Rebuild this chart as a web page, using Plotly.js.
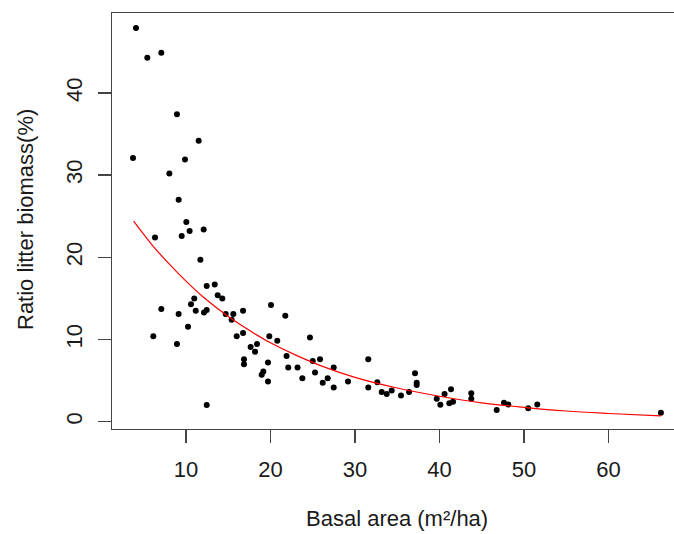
<!DOCTYPE html>
<html>
<head>
<meta charset="utf-8">
<script src="https://cdn.plot.ly/plotly-3.0.1.min.js"></script>
<style>html,body{margin:0;padding:0;background:#fff;}</style>
</head>
<body>
<div id="chart" style="width:674px;height:534px;"></div>
<script>
// Observed data: basal area (m²/ha) vs ratio of litter biomass (%)
const basalArea = [
  4.08, 5.42, 7.08, 8.93, 11.5, 3.73, 9.88, 8.03, 9.13, 10.04,
  6.33, 9.49, 10.43, 12.09, 11.7, 12.45, 13.4, 13.75, 14.3, 10.98,
  10.59, 11.15, 12.13, 12.45, 7.08, 9.13, 10.24, 6.13, 8.93, 14.7,
  15.6, 15.4, 16.75, 20.06, 21.75, 16.0, 16.75, 19.86, 20.8, 17.65,
  18.4, 18.17, 16.86, 16.86, 19.7, 19.15, 18.96, 19.7, 21.9, 22.1,
  23.2, 12.45, 24.67, 23.77, 25.0, 25.86, 25.27, 26.18, 26.77, 27.48,
  27.48, 29.17, 31.57, 31.57, 32.64, 33.16, 33.75, 34.34, 35.44, 36.4,
  37.1, 37.3, 37.3, 39.67, 40.1, 40.6, 41.36, 41.16, 41.6, 43.76,
  43.76, 46.77, 47.63, 48.14, 50.5, 51.57, 66.2
];
const litterRatio = [
  47.9, 44.3, 44.9, 37.4, 34.2, 32.1, 31.9, 30.2, 27.0, 24.3,
  22.4, 22.6, 23.2, 23.4, 19.7, 16.5, 16.7, 15.4, 15.0, 15.0,
  14.3, 13.5, 13.3, 13.6, 13.7, 13.1, 11.55, 10.4, 9.45, 13.1,
  13.1, 12.4, 13.5, 14.2, 12.9, 10.4, 10.8, 10.4, 9.85, 9.1,
  9.45, 8.5, 7.6, 7.0, 7.2, 6.1, 5.7, 4.9, 8.0, 6.6,
  6.6, 2.03, 10.26, 5.3, 7.4, 7.6, 6.0, 4.75, 5.3, 6.6,
  4.15, 4.9, 7.6, 4.15, 4.8, 3.6, 3.37, 3.8, 3.2, 3.6,
  5.9, 4.75, 4.46, 2.8, 2.07, 3.37, 3.94, 2.24, 2.43, 3.45,
  2.8, 1.42, 2.31, 2.1, 1.63, 2.1, 1.1
];
// Fitted curve
const fitX = [3.8, 6, 8, 10, 12, 15, 18, 20, 23, 26, 30, 35, 40, 45, 50, 55, 60, 66.2];
const fitY = [24.4, 21.5, 19.2, 17.1, 15.2, 12.8, 10.8, 9.6, 8.1, 6.8, 5.4, 4.1, 3.1, 2.3, 1.75, 1.3, 1.0, 0.7];

const xTicks = [10, 20, 30, 40, 50, 60];
const yTicks = [0, 10, 20, 30, 40];
const xTitle = "Basal area (m²/ha)";
const yTitle = "Ratio litter biomass(%)";

const font = {family: "'Liberation Sans', Arial, sans-serif", size: 22, color: "#1a1a1a"};
const axisColor = "#444444";

const traces = [
  {
    x: basalArea, y: litterRatio, type: "scatter", mode: "markers",
    marker: {color: "#000000", size: 6},
    hoverinfo: "x+y", showlegend: false
  },
  {
    x: fitX, y: fitY, type: "scatter", mode: "lines",
    line: {color: "#ff0000", width: 1.2, shape: "spline"},
    hoverinfo: "skip", showlegend: false
  }
];

const layout = {
  width: 674, height: 534,
  margin: {l: 112, r: 0, t: 13, b: 105, pad: 0},
  paper_bgcolor: "#ffffff", plot_bgcolor: "#ffffff",
  font: font,
  showlegend: false,
  xaxis: {
    range: [1.243, 67.75], tickmode: "array", tickvals: xTicks, ticktext: xTicks.map(String),
    showgrid: false, zeroline: false,
    showline: true, mirror: true, linecolor: axisColor, linewidth: 1.4,
    ticks: "outside", ticklen: 13, tickwidth: 1.4, tickcolor: axisColor,
    ticklabelstandoff: 7,
    tickfont: font
  },
  yaxis: {
    range: [-0.888, 49.73], tickmode: "array", tickvals: yTicks, ticktext: yTicks.map(String),
    showgrid: false, zeroline: false,
    showline: true, mirror: false, linecolor: axisColor, linewidth: 1.4,
    ticks: "outside", ticklen: 13, tickwidth: 1.4, tickcolor: axisColor,
    tickangle: -90, ticklabelstandoff: 7,
    tickfont: font
  },
  annotations: [
    {text: xTitle, xref: "paper", yref: "paper", x: (397 - 112) / 562, y: -(518 - 429) / 416,
     xanchor: "center", yanchor: "middle", showarrow: false, font: font},
    {text: yTitle, xref: "paper", yref: "paper", x: -(112 - 25) / 562, y: (429 - 220) / 416,
     xanchor: "center", yanchor: "middle", textangle: -90, showarrow: false, font: font}
  ]
};

Plotly.newPlot("chart", traces, layout, {staticPlot: true, displayModeBar: false});
</script>
</body>
</html>
